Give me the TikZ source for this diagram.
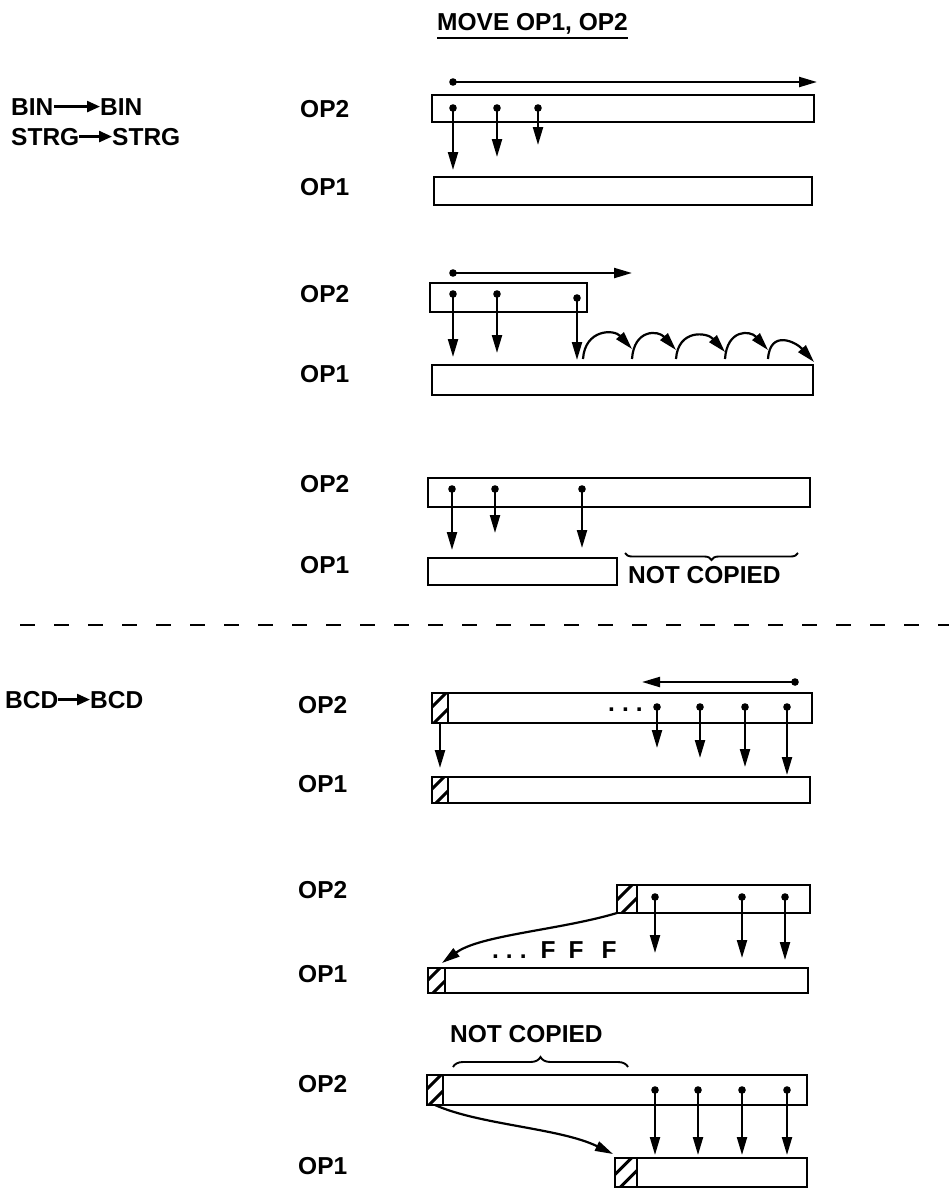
\documentclass[tikz,border=0pt]{standalone}
\usepackage{fontspec}
\setmainfont{Liberation Sans}
\usetikzlibrary{arrows.meta,decorations.pathreplacing,calc}
\newcommand\mybox[6][box]{\node[#1, minimum width={#5-#3}, minimum height={#6-#4}] (#2) at ({(#3+#5)/2},{(#4+#6)/2}) {};}
\newcommand\drop[4]{\coordinate (#1s) at (#2,#3); \coordinate (#1e) at (#2,#4); \fill (#1s) circle[radius=3.8]; \draw[mv] (#1s) -- (#1e);}
\begin{document}
\begin{tikzpicture}[x=1pt,y=-1pt,
  box/.style={draw, line width=2.1pt, inner sep=0pt, outer sep=0pt, rectangle, fill=white},
  hatchbox/.style={box, path picture={\foreach \s in {-9,9}{\draw[line width=3pt] ($(path picture bounding box.center)+(-14,14+\s)$) -- ($(path picture bounding box.center)+(14,-14+\s)$);}}},
  lbl/.style={font=\fontsize{24.5}{30}\selectfont\bfseries, inner sep=0pt, anchor=base west},
  mv/.style={-{Triangle[length=18pt,width=10pt]}, line width=2.2pt},
  txtarrow/.style={-{Triangle[length=13pt,width=11pt]}, line width=2.6pt},
  brc/.style={decorate, line width=1.9pt}
]
\useasboundingbox (0,0) rectangle (949,1189);

% title
\node[lbl] (title) at (437,30) {MOVE OP1, OP2};
\draw[line width=2.3pt] ($(title.base west)+(0,8)$) coordinate (ul1) -- ($(title.base east)+(0,8)$) coordinate (ul2);

% left labels
\node[lbl] (bin1) at (11,115) {BIN};
\node[lbl] (bin2) at (100,115) {BIN};
\draw[txtarrow] (bin1.east) -- (bin2.west);
\node[lbl] (strg1) at (11,145) {STRG};
\node[lbl] (strg2) at (112,145) {STRG};
\draw[txtarrow] (strg1.east) -- (strg2.west);
\node[lbl] (bcd1) at (5,708) {BCD};
\node[lbl] (bcd2) at (90,708) {BCD};
\draw[txtarrow] (bcd1.east) -- (bcd2.west);

% OP labels
\node[lbl] (l1a) at (300,117) {OP2};
\node[lbl] (l1b) at (300,195) {OP1};
\node[lbl] (l2a) at (300,302) {OP2};
\node[lbl] (l2b) at (300,382) {OP1};
\node[lbl] (l3a) at (300,492) {OP2};
\node[lbl] (l3b) at (300,573) {OP1};
\node[lbl] (l4a) at (298,713) {OP2};
\node[lbl] (l4b) at (298,792) {OP1};
\node[lbl] (l5a) at (298,898) {OP2};
\node[lbl] (l5b) at (298,982) {OP1};
\node[lbl] (l6a) at (298,1092) {OP2};
\node[lbl] (l6b) at (298,1174) {OP1};

% ---------- group 1
\coordinate (h1s) at (453,82); \coordinate (h1e) at (817,82);
\fill (h1s) circle[radius=3.8]; \draw[mv] (h1s) -- (h1e);
\mybox{g1a}{432}{95}{814}{122}
\mybox{g1b}{434}{177}{812}{205}
\drop{d11}{453}{108}{170}
\drop{d12}{497}{108}{157}
\drop{d13}{538}{108}{145}

% ---------- group 2
\coordinate (h2s) at (453,273); \coordinate (h2e) at (632,273);
\fill (h2s) circle[radius=3.8]; \draw[mv] (h2s) -- (h2e);
\mybox{g2a}{430}{283}{587}{312}
\mybox{g2b}{432}{365}{813}{395}
\drop{d21}{453}{294}{357}
\drop{d22}{497}{294}{353}
\drop{d23}{577}{298}{360}
\foreach \i/\xs/\xe/\ye in {1/583/632/349,2/632/676/350,3/676/725/352,4/725/768/350,5/768/814/362}{
  \coordinate (a\i s) at (\xs,359);
  \coordinate (a\i e) at (\xe,\ye);
  \draw[mv] (a\i s) .. controls ($(a\i s)+(2,-30)$) and ($(a\i e)+(-18,-20)$) .. (a\i e);
}

% ---------- group 3
\mybox{g3a}{428}{478}{810}{507}
\mybox{g3b}{428}{558}{617}{585}
\drop{d31}{452}{489}{550}
\drop{d32}{495}{489}{533}
\drop{d33}{582}{489}{548}
\coordinate (b3s) at (625,553); \coordinate (b3e) at (798,553);
\draw[brc, decoration={brace, amplitude=7pt, mirror}] (b3s) -- (b3e);
\node[lbl] (nc1) at (628,583) {NOT COPIED};

% dashed separator
\coordinate (ds) at (20,625); \coordinate (de) at (949,625);
\draw[line width=2.4pt, dash pattern=on 15pt off 19pt] (ds) -- (de);

% ---------- group 4
\coordinate (h4s) at (795,682); \coordinate (h4e) at (642,682);
\fill (h4s) circle[radius=3.8]; \draw[mv] (h4s) -- (h4e);
\mybox{g4a}{432}{693}{812}{723}
\mybox[hatchbox]{g4ah}{432}{693}{448}{723}
\mybox{g4b}{432}{777}{810}{803}
\mybox[hatchbox]{g4bh}{432}{777}{448}{803}
\node[lbl] (dots4) at (608,711) {.\hspace{7pt}.\hspace{7pt}.};
\drop{d41}{657}{707}{748}
\drop{d42}{700}{707}{758}
\drop{d43}{745}{707}{767}
\drop{d44}{787}{707}{775}
\coordinate (d40e) at (440,768);
\draw[mv] (g4ah.south) -- (d40e);

% ---------- group 5
\mybox{g5a}{617}{885}{810}{913}
\mybox[hatchbox]{g5ah}{617}{885}{637}{913}
\mybox{g5b}{428}{968}{808}{993}
\mybox[hatchbox]{g5bh}{428}{968}{445}{993}
\drop{d51}{655}{897}{953}
\drop{d52}{742}{897}{958}
\drop{d53}{785}{897}{960}
\coordinate (c5e) at (442,963);
\draw[mv] (g5ah.south west) .. controls (560,930) and (480,935) .. (c5e);
\node[lbl] (fff) at (492,958) {.\hspace{7pt}.\hspace{7pt}.\hspace{14pt}F\hspace{13pt}F\hspace{18pt}F};

% ---------- group 6
\node[lbl] (nc2) at (450,1042) {NOT COPIED};
\coordinate (b6s) at (453,1067); \coordinate (b6e) at (628,1067);
\draw[brc, decoration={brace, amplitude=10pt}] (b6s) -- (b6e);
\mybox{g6a}{427}{1075}{807}{1105}
\mybox[hatchbox]{g6ah}{427}{1075}{443}{1105}
\mybox{g6b}{615}{1158}{807}{1187}
\mybox[hatchbox]{g6bh}{615}{1158}{637}{1187}
\drop{d61}{655}{1090}{1155}
\drop{d62}{698}{1090}{1155}
\drop{d63}{742}{1090}{1155}
\drop{d64}{787}{1090}{1155}
\coordinate (c6e) at (613,1154);
\draw[mv] (g6ah.south) .. controls (480,1125) and (560,1128) .. (c6e);
\end{tikzpicture}
\end{document}
